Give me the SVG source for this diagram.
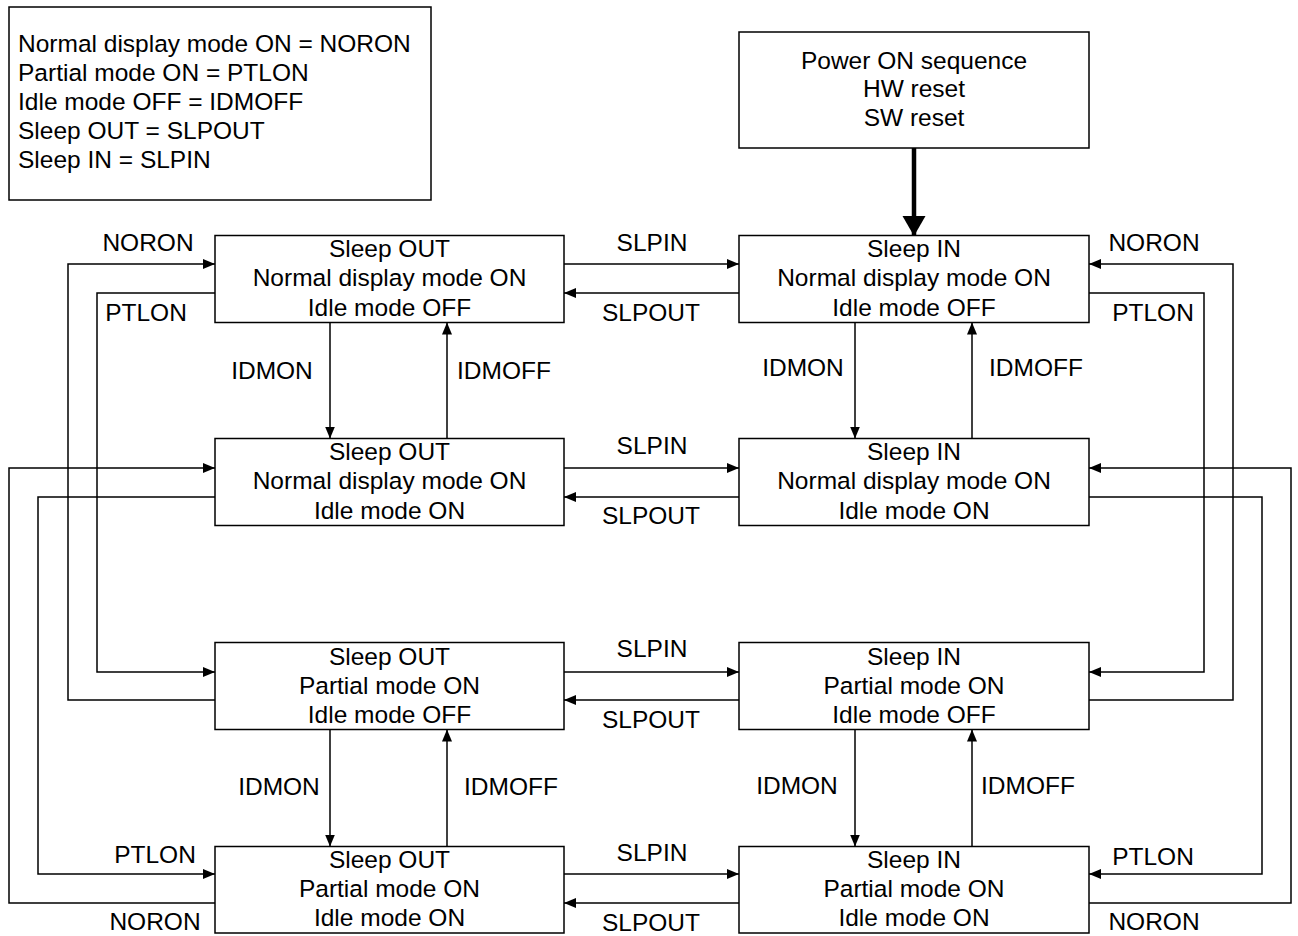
<svg xmlns="http://www.w3.org/2000/svg" width="1298" height="936" viewBox="0 0 1298 936">
<style>
.box{fill:#fff;stroke:#000;stroke-width:1.5}
.t{font-family:"Liberation Sans",Arial,sans-serif;font-size:24.5px;fill:#000;text-anchor:middle}
.tl{font-family:"Liberation Sans",Arial,sans-serif;font-size:24.5px;fill:#000}
.c{fill:none;stroke:#000;stroke-width:1.5}
</style>
<defs>
<marker id="ah" markerUnits="userSpaceOnUse" markerWidth="13" markerHeight="11" refX="12" refY="5" orient="auto">
<path d="M0,0 L12,5 L0,10 z" fill="#000"/>
</marker>
<marker id="ahb" markerUnits="userSpaceOnUse" markerWidth="22" markerHeight="24" refX="20" refY="11.5" orient="auto">
<path d="M0,0 L20,11.5 L0,23 z" fill="#000"/>
</marker>
</defs>
<rect width="1298" height="936" fill="#fff"/>

<g id="legend">
<rect class="box" x="9" y="7" width="422" height="193"/>
<text class="tl" x="18" y="52">Normal display mode ON = NORON</text>
<text class="tl" x="18" y="81">Partial mode ON = PTLON</text>
<text class="tl" x="18" y="110">Idle mode OFF = IDMOFF</text>
<text class="tl" x="18" y="139">Sleep OUT = SLPOUT</text>
<text class="tl" x="18" y="168">Sleep IN = SLPIN</text>
</g>

<g id="power">
<rect class="box" x="739" y="32" width="350" height="116"/>
<text class="t" x="914" y="68.5">Power ON sequence</text>
<text class="t" x="914" y="97">HW reset</text>
<text class="t" x="914" y="126">SW reset</text>
</g>

<g id="connectors">
<path d="M914,148 V236" fill="none" stroke="#000" stroke-width="4.5" marker-end="url(#ahb)"/>
<!-- left loops -->
<path class="c" d="M215,700 H68 V264 H215" marker-end="url(#ah)"/>
<path class="c" d="M215,293 H97 V672 H215" marker-end="url(#ah)"/>
<path class="c" d="M215,903 H9 V468 H215" marker-end="url(#ah)"/>
<path class="c" d="M215,497 H38 V874 H215" marker-end="url(#ah)"/>
<!-- right loops -->
<path class="c" d="M1089,700 H1233 V264 H1089" marker-end="url(#ah)"/>
<path class="c" d="M1089,293 H1204 V672 H1089" marker-end="url(#ah)"/>
<path class="c" d="M1089,903 H1291 V468 H1089" marker-end="url(#ah)"/>
<path class="c" d="M1089,497 H1262 V874 H1089" marker-end="url(#ah)"/>
<!-- SLPIN / SLPOUT -->
<path class="c" d="M564,264 H739" marker-end="url(#ah)"/>
<path class="c" d="M739,293 H564" marker-end="url(#ah)"/>
<path class="c" d="M564,468 H739" marker-end="url(#ah)"/>
<path class="c" d="M739,497 H564" marker-end="url(#ah)"/>
<path class="c" d="M564,672 H739" marker-end="url(#ah)"/>
<path class="c" d="M739,700 H564" marker-end="url(#ah)"/>
<path class="c" d="M564,874 H739" marker-end="url(#ah)"/>
<path class="c" d="M739,903 H564" marker-end="url(#ah)"/>
<!-- IDMON / IDMOFF -->
<path class="c" d="M330,322.5 V438.5" marker-end="url(#ah)"/>
<path class="c" d="M447,438.5 V322.5" marker-end="url(#ah)"/>
<path class="c" d="M855,322.5 V438.5" marker-end="url(#ah)"/>
<path class="c" d="M972,438.5 V322.5" marker-end="url(#ah)"/>
<path class="c" d="M330,729.5 V846.5" marker-end="url(#ah)"/>
<path class="c" d="M447,846.5 V729.5" marker-end="url(#ah)"/>
<path class="c" d="M855,729.5 V846.5" marker-end="url(#ah)"/>
<path class="c" d="M972,846.5 V729.5" marker-end="url(#ah)"/>
<!-- labels -->
<text class="t" x="148" y="251">NORON</text>
<text class="t" x="146" y="321">PTLON</text>
<text class="t" x="1154" y="251">NORON</text>
<text class="t" x="1153" y="321">PTLON</text>
<text class="t" x="155" y="863">PTLON</text>
<text class="t" x="155" y="930">NORON</text>
<text class="t" x="1153" y="865">PTLON</text>
<text class="t" x="1154" y="930">NORON</text>
<text class="t" x="652" y="251">SLPIN</text>
<text class="t" x="651" y="321">SLPOUT</text>
<text class="t" x="652" y="454">SLPIN</text>
<text class="t" x="651" y="524">SLPOUT</text>
<text class="t" x="652" y="657">SLPIN</text>
<text class="t" x="651" y="728">SLPOUT</text>
<text class="t" x="652" y="861">SLPIN</text>
<text class="t" x="651" y="931">SLPOUT</text>
<text class="t" x="272" y="379">IDMON</text>
<text class="t" x="504" y="379">IDMOFF</text>
<text class="t" x="803" y="376">IDMON</text>
<text class="t" x="1036" y="376">IDMOFF</text>
<text class="t" x="279" y="795">IDMON</text>
<text class="t" x="511" y="795">IDMOFF</text>
<text class="t" x="797" y="794">IDMON</text>
<text class="t" x="1028" y="794">IDMOFF</text>
</g>

<g id="n1">
<rect class="box" x="215" y="235.5" width="349" height="87"/>
<text class="t" x="389.5" y="257">Sleep OUT</text>
<text class="t" x="389.5" y="286">Normal display mode ON</text>
<text class="t" x="389.5" y="315.5">Idle mode OFF</text>
</g>
<g id="n2">
<rect class="box" x="739" y="235.5" width="350" height="87"/>
<text class="t" x="914" y="257">Sleep IN</text>
<text class="t" x="914" y="286">Normal display mode ON</text>
<text class="t" x="914" y="315.5">Idle mode OFF</text>
</g>
<g id="n3">
<rect class="box" x="215" y="438.5" width="349" height="87"/>
<text class="t" x="389.5" y="460">Sleep OUT</text>
<text class="t" x="389.5" y="489">Normal display mode ON</text>
<text class="t" x="389.5" y="518.5">Idle mode ON</text>
</g>
<g id="n4">
<rect class="box" x="739" y="438.5" width="350" height="87"/>
<text class="t" x="914" y="460">Sleep IN</text>
<text class="t" x="914" y="489">Normal display mode ON</text>
<text class="t" x="914" y="518.5">Idle mode ON</text>
</g>
<g id="n5">
<rect class="box" x="215" y="642.5" width="349" height="87"/>
<text class="t" x="389.5" y="664.5">Sleep OUT</text>
<text class="t" x="389.5" y="693.5">Partial mode ON</text>
<text class="t" x="389.5" y="722.5">Idle mode OFF</text>
</g>
<g id="n6">
<rect class="box" x="739" y="642.5" width="350" height="87"/>
<text class="t" x="914" y="664.5">Sleep IN</text>
<text class="t" x="914" y="693.5">Partial mode ON</text>
<text class="t" x="914" y="722.5">Idle mode OFF</text>
</g>
<g id="n7">
<rect class="box" x="215" y="846.5" width="349" height="86.5"/>
<text class="t" x="389.5" y="868">Sleep OUT</text>
<text class="t" x="389.5" y="897">Partial mode ON</text>
<text class="t" x="389.5" y="926">Idle mode ON</text>
</g>
<g id="n8">
<rect class="box" x="739" y="846.5" width="350" height="86.5"/>
<text class="t" x="914" y="868">Sleep IN</text>
<text class="t" x="914" y="897">Partial mode ON</text>
<text class="t" x="914" y="926">Idle mode ON</text>
</g>
</svg>
